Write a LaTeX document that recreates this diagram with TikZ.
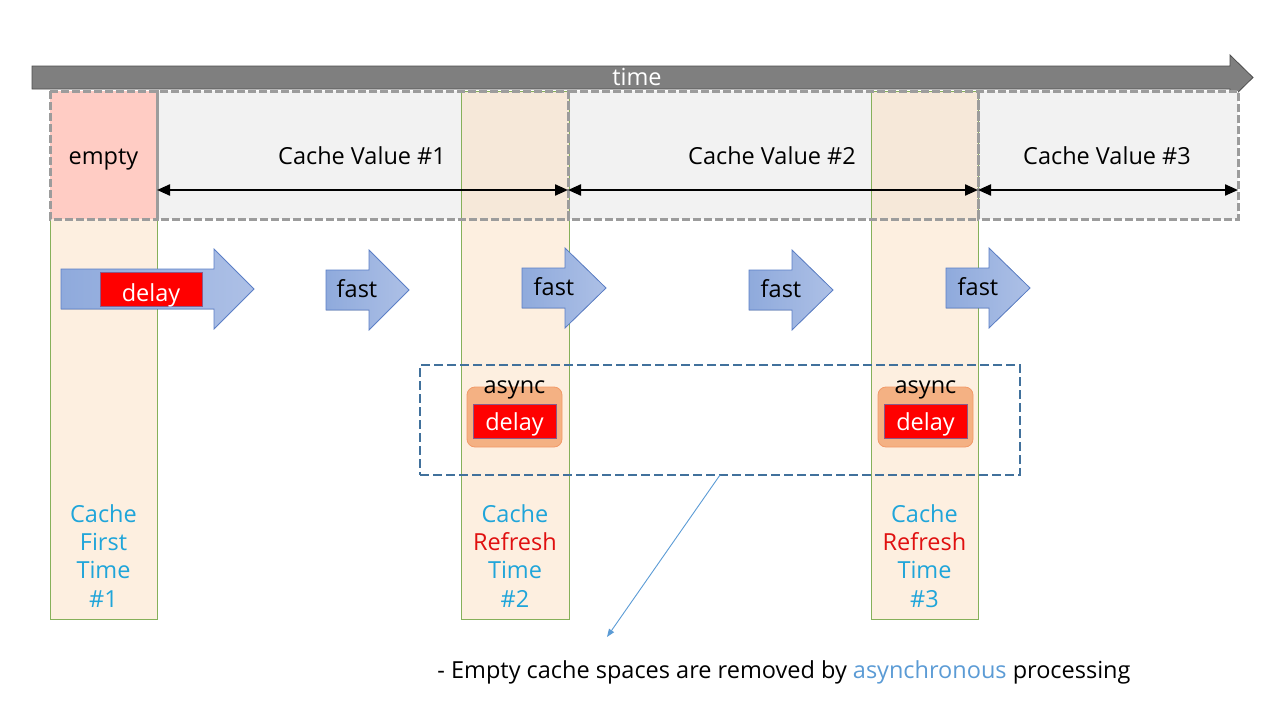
\documentclass[tikz,border=0pt]{standalone}
\usepackage{fontspec}
\setmainfont{Open Sans}
\usetikzlibrary{arrows.meta}
\definecolor{timegray}{HTML}{7F7F7F}
\definecolor{timeborder}{HTML}{4D4D4D}
\definecolor{boxgray}{HTML}{F2F2F2}
\definecolor{dashgray}{HTML}{9C9C9C}
\definecolor{emptypink}{HTML}{FFCCC4}
\definecolor{colfill}{HTML}{FBDFC1}
\definecolor{colgreen}{HTML}{86B05A}
\definecolor{fastA}{HTML}{8FAADC}
\definecolor{fastB}{HTML}{ADC0E6}
\definecolor{fastborder}{HTML}{5B7FC7}
\definecolor{delayborder}{HTML}{8A5A8A}
\definecolor{asyncfill}{HTML}{F4B183}
\definecolor{asyncborder}{HTML}{F29A68}
\definecolor{steel}{HTML}{41719C}
\definecolor{cacheblue}{HTML}{1FA5DA}
\definecolor{refreshred}{HTML}{E01010}
\definecolor{linkblue}{HTML}{5B9BD5}
\newcommand\fatarrow[4]{%
  \filldraw[left color=fastA, right color=fastB, draw=fastborder, line width=0.8pt]
    (#1,{#4-20}) -- (#2,{#4-20}) -- (#2,{#4-40}) -- (#3,#4) -- (#2,{#4+40}) -- (#2,{#4+20}) -- (#1,{#4+20}) -- cycle;}
\begin{document}
\begin{tikzpicture}[x=1pt,y=-1pt,
  txt/.style={font=\fontsize{23.5}{28}\selectfont, inner sep=0pt, anchor=base},
  colbox/.style={fill=colfill, fill opacity=0.5, draw=colgreen, draw opacity=1, line width=0.8pt, inner sep=0pt, outer sep=0pt, minimum height=528pt},
  valbox/.style={fill=boxgray, inner sep=0pt, outer sep=0pt, minimum height=128pt},
  dashbord/.style={draw=dashgray, line width=3pt, dash pattern=on 8pt off 3pt},
  dbl/.style={line width=2.2pt, {Triangle[length=13pt,width=11pt]}-{Triangle[length=13pt,width=11pt]}},
  redbox/.style={fill=red, draw=delayborder, line width=0.8pt, minimum width=#1, minimum height=34pt, inner sep=0pt},
  asyncbox/.style={fill=asyncfill, draw=asyncborder, line width=0.8pt, rounded corners=8pt, minimum width=95pt, minimum height=60pt, inner sep=0pt},
  lbl/.style={txt, text=cacheblue},
  lblred/.style={txt, text=refreshred}
]
\useasboundingbox (0,0) rectangle (1280,720);

% time arrow
\filldraw[fill=timegray, draw=timeborder, line width=0.8pt]
  (32,66) -- (1230,66) -- (1230,55) -- (1253,77.5) -- (1230,100) -- (1230,89) -- (32,89) -- cycle;
\node[txt, text=white] (time) at (637,85) {time};

% value boxes (fill)
\node[valbox, minimum width=411pt] (b1) at (362.5,155) {};
\node[valbox, minimum width=410pt] (b2) at (773,155) {};
\node[valbox, minimum width=260pt] (b3) at (1108,155) {};

% columns
\node[colbox, minimum width=107pt] (c1) at (103.5,355) {};
\node[colbox, minimum width=108pt] (c2) at (515,355) {};
\node[colbox, minimum width=107pt] (c3) at (924.5,355) {};

% empty box
\node[valbox, fill=emptypink, minimum width=107pt] (b0) at (103.5,155) {};

% dashed borders
\foreach \b in {b0,b1,b2,b3}{
  \draw[dashbord] (\b.north west) rectangle (\b.south east);
}

\node[txt] (tempty) at (103.5,164) {empty};
\node[txt] (tv1) at (362,164) {Cache Value \#1};
\node[txt] (tv2) at (772,164) {Cache Value \#2};
\node[txt] (tv3) at (1107,164) {Cache Value \#3};

\draw[dbl] ([yshift=-35pt]b1.west) -- ([yshift=-35pt]b1.east);
\draw[dbl] ([yshift=-35pt]b2.west) -- ([yshift=-35pt]b2.east);
\draw[dbl] ([yshift=-35pt]b3.west) -- ([yshift=-35pt]b3.east);

% request arrows
\fatarrow{61}{214}{254}{289}
\node[redbox=102pt] (d0) at (151,289) {};
\node[txt, text=white] (d0t) at (151,301) {delay};
\fatarrow{326}{369}{409}{290}
\node[txt] (f1) at (357,297) {fast};
\fatarrow{522}{565}{606}{288}
\node[txt] (f2) at (554,295) {fast};
\fatarrow{749}{792}{833}{290}
\node[txt] (f3) at (781,297) {fast};
\fatarrow{946}{989}{1030}{288}
\node[txt] (f4) at (978,295) {fast};

% async region
\node[asyncbox] (a1) at (514.5,417) {};
\node[redbox=83pt] (d1) at (514.5,421) {};
\node[txt, text=white] (d1t) at (514.5,430) {delay};
\node[txt] (as1) at (514.5,393) {async};
\node[asyncbox] (a2) at (925.5,417) {};
\node[redbox=83pt] (d2) at (925.5,421) {};
\node[txt, text=white] (d2t) at (925.5,430) {delay};
\node[txt] (as2) at (925.5,393) {async};

\node[draw=steel, line width=2.5pt, dash pattern=on 9pt off 4pt, minimum width=600pt, minimum height=110pt, inner sep=0pt, outer sep=0pt] (abox) at (720,420) {};

% column labels
\node[lbl] (l1a) at (103.5,522) {Cache};
\node[lbl] (l1b) at (103.5,550.3) {First};
\node[lbl] (l1c) at (103.5,578.6) {Time};
\node[lbl] (l1d) at (103.5,607) {\#1};
\node[lbl] (l2a) at (515,522) {Cache};
\node[lblred] (l2b) at (515,550.3) {Refresh};
\node[lbl] (l2c) at (515,578.6) {Time};
\node[lbl] (l2d) at (515,607) {\#2};
\node[lbl] (l3a) at (924.5,522) {Cache};
\node[lblred] (l3b) at (924.5,550.3) {Refresh};
\node[lbl] (l3c) at (924.5,578.6) {Time};
\node[lbl] (l3d) at (924.5,607) {\#3};

% note
\coordinate (noteend) at (607,637);
\draw[linkblue, line width=0.9pt, -{Triangle[length=8pt,width=6pt]}] (abox.south) -- (noteend);
\node[txt] (note) at (784,678) {- Empty cache spaces are removed by \textcolor{linkblue}{asynchronous} processing};
\end{tikzpicture}
\end{document}
